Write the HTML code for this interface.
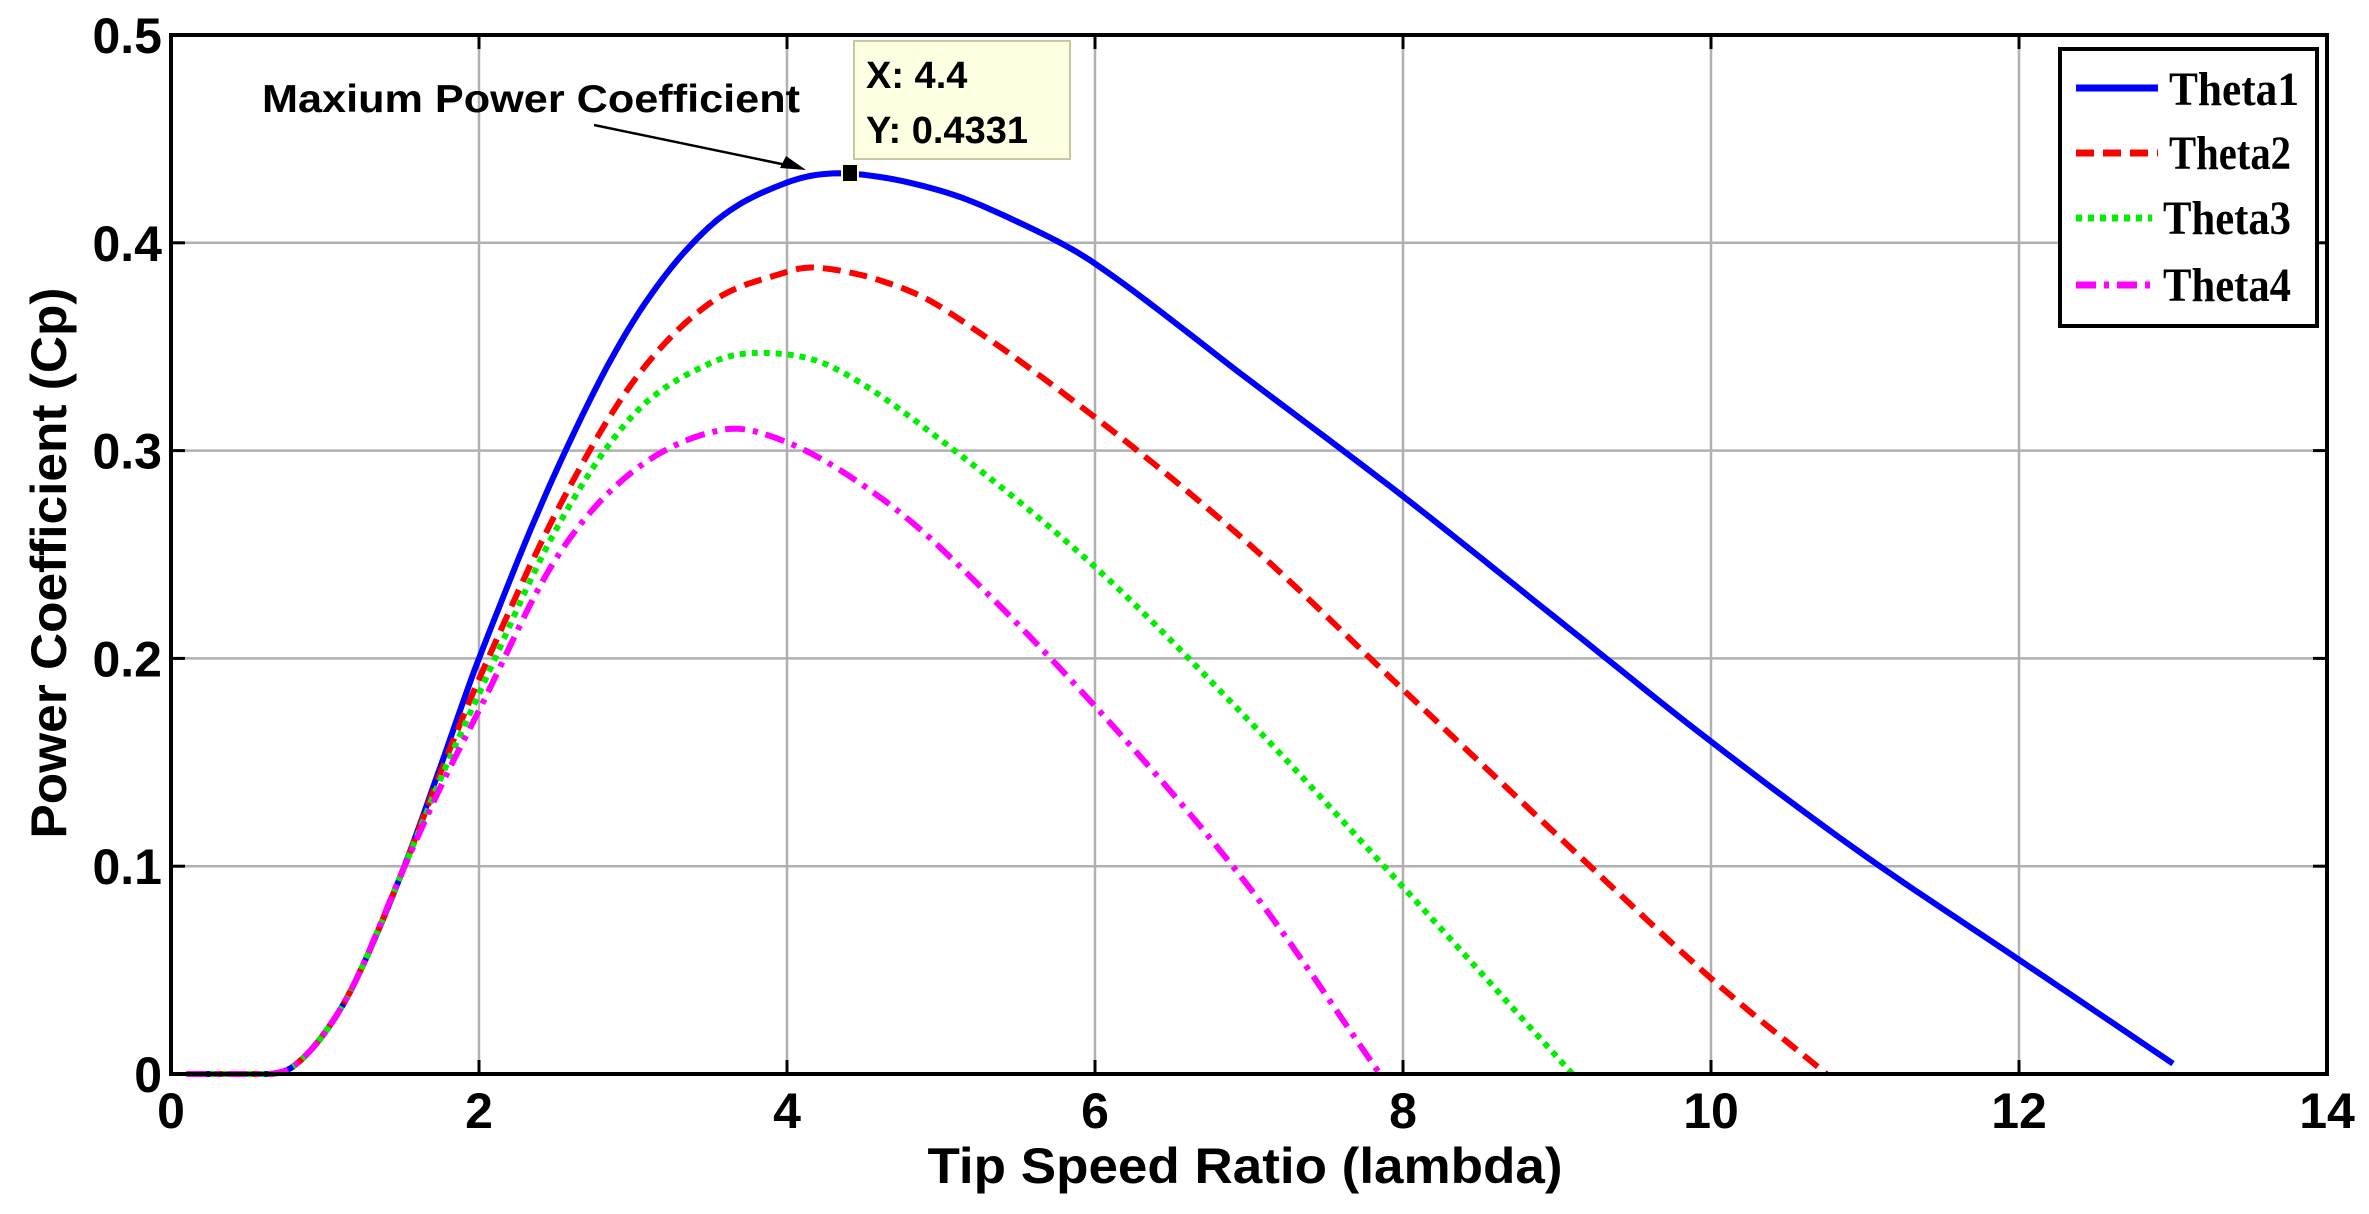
<!DOCTYPE html>
<html><head><meta charset="utf-8"><style>
html,body{margin:0;padding:0;background:#fff;}
svg{display:block;}
text{font-family:"Liberation Sans",Arial,sans-serif;font-weight:bold;fill:#000;}
</style></head><body>
<svg id="s" width="2369" height="1214" viewBox="0 0 2369 1214" xmlns="http://www.w3.org/2000/svg">
<g id="grid" stroke="#b0b0b0" stroke-width="2.5"></g>
<g id="curves" fill="none" stroke-width="6" stroke-linejoin="round"></g>
<rect x="171" y="35" width="2156" height="1039" fill="none" stroke="#000" stroke-width="4"/>
<g id="ticks" stroke="#000" stroke-width="3"></g>
<g id="labels" font-size="50"></g>
<text x="1245" y="1183" font-size="50" text-anchor="middle" textLength="635" lengthAdjust="spacingAndGlyphs">Tip Speed Ratio (lambda)</text>
<text transform="translate(66,563) rotate(-90)" font-size="50" text-anchor="middle" textLength="551" lengthAdjust="spacingAndGlyphs">Power Coefficient (Cp)</text>
<text x="262" y="112" font-size="39" textLength="538" lengthAdjust="spacingAndGlyphs">Maxium Power Coefficient</text>
<line x1="594" y1="125" x2="796" y2="167" stroke="#000" stroke-width="2.5"/>
<polygon points="806,170 780,168 786,156" fill="#000"/>
<rect x="854" y="41" width="216" height="118" fill="#ffffe1" stroke="#c8c8a0" stroke-width="2"/>
<text x="866" y="88" font-size="38">X: 4.4</text>
<text x="866" y="143" font-size="38">Y: 0.4331</text>
<rect x="842" y="164" width="16" height="18" fill="#000" stroke="#ffffe1" stroke-width="2"/>
<rect x="2060" y="49" width="257" height="277" fill="#fff" stroke="#000" stroke-width="4"/>
<line x1="2076" y1="88" x2="2158" y2="88" stroke="#0000ff" stroke-width="7"/>
<line x1="2076" y1="153" x2="2158" y2="153" stroke="#ff0000" stroke-width="7" stroke-dasharray="18,9"/>
<line x1="2076" y1="218" x2="2152" y2="218" stroke="#00ee00" stroke-width="7" stroke-dasharray="6,6"/>
<line x1="2076" y1="285" x2="2152" y2="285" stroke="#ff00ff" stroke-width="7" stroke-dasharray="20,8,5,8"/>
<g style="font-family:'Liberation Serif',serif;font-weight:bold" font-size="48">
<text style="font-family:'Liberation Serif',serif" x="2169" y="105" textLength="130" lengthAdjust="spacingAndGlyphs">Theta1</text>
<text style="font-family:'Liberation Serif',serif" x="2169" y="169" textLength="122" lengthAdjust="spacingAndGlyphs">Theta2</text>
<text style="font-family:'Liberation Serif',serif" x="2163" y="234" textLength="128" lengthAdjust="spacingAndGlyphs">Theta3</text>
<text style="font-family:'Liberation Serif',serif" x="2163" y="301" textLength="128" lengthAdjust="spacingAndGlyphs">Theta4</text>
</g>
</svg>
<script>
var NS="http://www.w3.org/2000/svg";
function X(v){return 171+v*154;}
function Y(v){return 1074-v*2078;}
function el(p,t,a){var e=document.createElementNS(NS,t);for(var k in a)e.setAttribute(k,a[k]);p.appendChild(e);return e;}
var g=document.getElementById('grid'),tk=document.getElementById('ticks'),lb=document.getElementById('labels');
for(var i=0;i<=14;i+=2){var x=X(i);
 if(i>0&&i<14)el(g,'line',{x1:x,y1:35,x2:x,y2:1074});
 el(tk,'line',{x1:x,y1:1074,x2:x,y2:1060});el(tk,'line',{x1:x,y1:35,x2:x,y2:49});
 var t=el(lb,'text',{x:x,y:1128,'text-anchor':'middle'});t.textContent=i;}
for(var j=0;j<=5;j++){var v=j/10,y=Y(v);
 if(j>0&&j<5)el(g,'line',{x1:171,y1:y,x2:2327,y2:y});
 el(tk,'line',{x1:171,y1:y,x2:185,y2:y});el(tk,'line',{x1:2327,y1:y,x2:2313,y2:y});
 var t=el(lb,'text',{x:162,y:y+18,'text-anchor':'end'});t.textContent=j==0?'0':v.toFixed(1);}
var low=[[0.1,0],[0.4,0],[0.65,0],[0.8,0.004],[1.0,0.02],[1.2,0.045],[1.5,0.097]];
var series=[
 {c:'#0000ff',d:'',p:low.concat([[1.75,0.148],[2,0.2],[2.5,0.29],[3,0.362],[3.5,0.408],[4,0.429],[4.4,0.4333],[5,0.425],[5.5,0.41],[6,0.39],[7,0.334],[8,0.278],[9,0.219],[10,0.16],[11,0.105],[12,0.055],[13,0.005]])},
 {c:'#ff0000',d:'18,9',p:low.concat([[1.75,0.145],[2,0.19],[2.5,0.27],[3,0.333],[3.5,0.371],[4,0.386],[4.2,0.388],[4.6,0.382],[5,0.369],[6,0.316],[7,0.255],[8,0.185],[9,0.115],[10,0.046],[10.75,0]])},
 {c:'#00ee00',d:'6,6',p:low.concat([[1.75,0.142],[2,0.183],[2.5,0.262],[3,0.317],[3.5,0.342],[3.86,0.347],[4.3,0.34],[5,0.305],[6,0.244],[7,0.17],[8,0.09],[9.1,0]])},
 {c:'#ff00ff',d:'20,8,5,8',p:low.concat([[1.75,0.138],[2,0.175],[2.5,0.248],[3,0.29],[3.58,0.31],[4,0.304],[4.5,0.283],[5,0.253],[6,0.177],[7,0.09],[7.85,0]])}];
var cv=document.getElementById('curves');
series.forEach(function(s){var P=s.p,n=P.length,m=[],pts=[];
 for(var k=0;k<n;k++){var a=P[Math.max(0,k-1)],b=P[Math.min(n-1,k+1)];m.push((b[1]-a[1])/(b[0]-a[0]));}
 for(var k=0;k<n-1;k++){var x0=P[k][0],x1=P[k+1][0],y0=P[k][1],y1=P[k+1][1],h=x1-x0;
  for(var q=0;q<12;q++){var t=q/12,t2=t*t,t3=t2*t;
   var y=(2*t3-3*t2+1)*y0+(t3-2*t2+t)*h*m[k]+(-2*t3+3*t2)*y1+(t3-t2)*h*m[k+1];
   pts.push(X(x0+t*h).toFixed(1)+','+Y(Math.max(0,y)).toFixed(1));}}
 var L=P[n-1];pts.push(X(L[0])+','+Y(L[1]));
 var a={points:pts.join(' '),stroke:s.c};if(s.d)a['stroke-dasharray']=s.d;el(cv,'polyline',a);});
</script>
</body></html>
